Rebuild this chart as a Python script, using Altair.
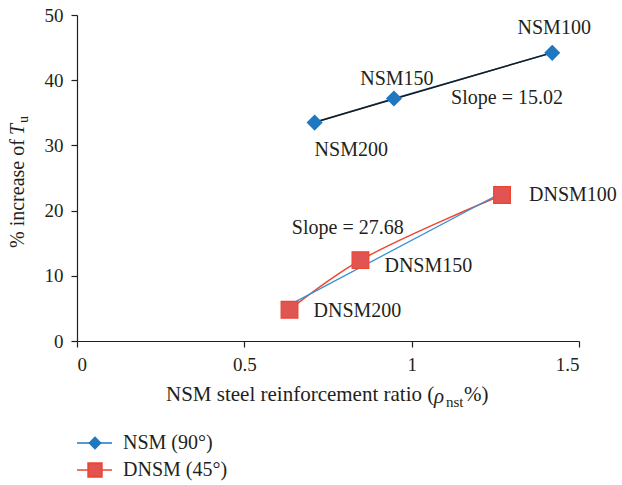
import altair as alt
import pandas as pd

FONT = "Liberation Serif"
TXT = "#231f20"

# ---- data ----
nsm_x = [0.71, 0.947, 1.42]
nsm_y = [33.5, 37.2, 44.2]
nsm_labels = ["NSM200", "NSM150", "NSM100"]

dnsm_x = [0.635, 0.847, 1.27]
dnsm_y = [4.8, 12.4, 22.4]
dnsm_labels = ["DNSM200", "DNSM150", "DNSM100"]

slope_text = ["Slope = 15.02", "Slope = 27.68"]
slope_x = [1.285, 0.809]
slope_y = [37.3, 17.4]

legend_names = ["NSM (90°)", "DNSM (45°)"]

x_ticks = [0, 0.5, 1, 1.5]
y_ticks = [0, 10, 20, 30, 40, 50]

x_title_parts = ["NSM steel reinforcement ratio (", "ρ", "nst", "%)"]
y_title_parts = ["% increase of ", "T", "u"]

nsm = pd.DataFrame({"x": nsm_x, "y": nsm_y, "label": nsm_labels})
dnsm = pd.DataFrame({"x": dnsm_x, "y": dnsm_y, "label": dnsm_labels})
slopes = pd.DataFrame({"x": slope_x, "y": slope_y, "label": slope_text})

xs = alt.Scale(domain=[0, 1.5], nice=False)
ys = alt.Scale(domain=[0, 50], nice=False)

X = alt.X("x:Q", scale=xs, axis=alt.Axis(
    values=x_ticks, format=".1~f", title=None, labelFont=FONT, labelFontSize=19,
    labelColor=TXT, tickSize=6, labelPadding=8))
Y = alt.Y("y:Q", scale=ys, axis=alt.Axis(
    values=y_ticks, title=None, labelFont=FONT, labelFontSize=19, labelColor=TXT,
    tickSize=6, labelPadding=8))

BLUE = "#1f77c0"
BLUE_LINE = "#3b8fd6"
RED = "#ee4530"
RED_FILL = "#e05452"

nsm_line = alt.Chart(nsm).mark_line(color=BLUE, strokeWidth=1.5).encode(x=X, y=Y)
nsm_trend = alt.Chart(nsm).mark_line(color="#1a1a1a", strokeWidth=1.5).transform_regression(
    "x", "y").encode(x=alt.X("x:Q", scale=xs), y=alt.Y("y:Q", scale=ys))
nsm_pts = alt.Chart(nsm).mark_point(shape="diamond", size=260, filled=True, color=BLUE,
                                    opacity=1).encode(x="x:Q", y="y:Q")

dnsm_line = alt.Chart(dnsm).mark_line(color=RED, strokeWidth=1.5,
                                      interpolate="catmull-rom").encode(x="x:Q", y="y:Q")
dnsm_trend = alt.Chart(dnsm).mark_line(color=BLUE_LINE, strokeWidth=1.3).transform_regression(
    "x", "y").encode(x="x:Q", y="y:Q")
dnsm_pts = alt.Chart(dnsm).mark_point(shape="square", size=280, filled=True, fill=RED_FILL,
                                      stroke=RED, strokeWidth=1.2, opacity=1).encode(x="x:Q", y="y:Q")

def lab(df, label, align, dx, dy):
    return alt.Chart(df).transform_filter(alt.datum.label == label).mark_text(
        font=FONT, fontSize=20, color=TXT, align=align, baseline="middle", dx=dx, dy=dy
    ).encode(x="x:Q", y="y:Q", text="label:N")

labels = [
    lab(nsm, "NSM100", "center", 2, -25),
    lab(nsm, "NSM150", "center", 3, -19),
    lab(nsm, "NSM200", "left", 0, 27),
    lab(dnsm, "DNSM100", "left", 27, 0),
    lab(dnsm, "DNSM150", "left", 24, 6),
    lab(dnsm, "DNSM200", "left", 24, 1),
]
slope_lab = alt.Chart(slopes).mark_text(font=FONT, fontSize=20, color=TXT, align="center",
                                        baseline="middle").encode(x="x:Q", y="y:Q", text="label:N")

# ---- axis titles with italics / subscripts ----
one = pd.DataFrame({"k": [0]})
def title_part(text, px, py, dx, dy, size, style="normal", angle=0):
    kw = dict(font=FONT, fontSize=size, color=TXT, align="left", baseline="middle",
              dx=dx, dy=dy, fontStyle=style, text=text)
    if angle:
        kw["angle"] = angle
    return alt.Chart(one).mark_text(**kw).encode(x=alt.value(px), y=alt.value(py))

XT_X, XT_Y = 89, 380
x_title = (
    title_part(x_title_parts[0], XT_X, XT_Y, 0, 0, 21)
    + title_part(x_title_parts[1], XT_X, XT_Y, 268, 2, 21, "italic")
    + title_part(x_title_parts[2], XT_X, XT_Y, 280, 7, 15)
    + title_part(x_title_parts[3], XT_X, XT_Y, 298, 0, 21)
)
YT_X, YT_Y = -59, 233
y_title = (
    title_part(y_title_parts[0], YT_X, YT_Y, 0, 0, 20, angle=270)
    + title_part(y_title_parts[1], YT_X, YT_Y, 113, 0, 20, "italic", angle=270)
    + title_part(y_title_parts[2], YT_X, YT_Y, 125, 6, 14, angle=270)
)

# ---- legend (manual) ----
leg_df = pd.DataFrame({"name": legend_names})
def leg_item(name, row_y, color, shape, size, fill, stroke):
    base = alt.Chart(leg_df).transform_filter(alt.datum.name == name)
    rule = base.mark_rule(color=color, strokeWidth=1.5).encode(
        x=alt.value(0), x2=alt.value(35), y=alt.value(row_y))
    pt = base.mark_point(shape=shape, size=size, filled=True, fill=fill, stroke=stroke,
                         opacity=1).encode(x=alt.value(18), y=alt.value(row_y))
    tx = base.mark_text(font=FONT, fontSize=20, color=TXT, align="left", baseline="middle").encode(
        x=alt.value(46), y=alt.value(row_y), text="name:N")
    return rule + pt + tx

leg1 = leg_item("NSM (90°)", 428, BLUE, "diamond", 110, BLUE, BLUE)
leg2 = leg_item("DNSM (45°)", 455, RED, "square", 180, RED_FILL, RED)

chart = alt.layer(
    nsm_line, nsm_trend, nsm_pts, dnsm_line, dnsm_trend, dnsm_pts, slope_lab, *labels,
    x_title, y_title, leg1, leg2
).properties(
    width=502, height=326,
    autosize=alt.AutoSizeParams(type="none"),
    padding={"left": 77, "top": 15, "right": 43, "bottom": 144},
    background="white",
).configure(font=FONT).configure_view(stroke=None).configure_axis(
    grid=False, domainColor="#231f20", tickColor="#231f20", labelFont=FONT, labelFontSize=19,
    labelColor=TXT, domainWidth=1.2, tickWidth=1.2,
)

chart.save("out.html", embed_options={"renderer": "svg", "actions": False})
